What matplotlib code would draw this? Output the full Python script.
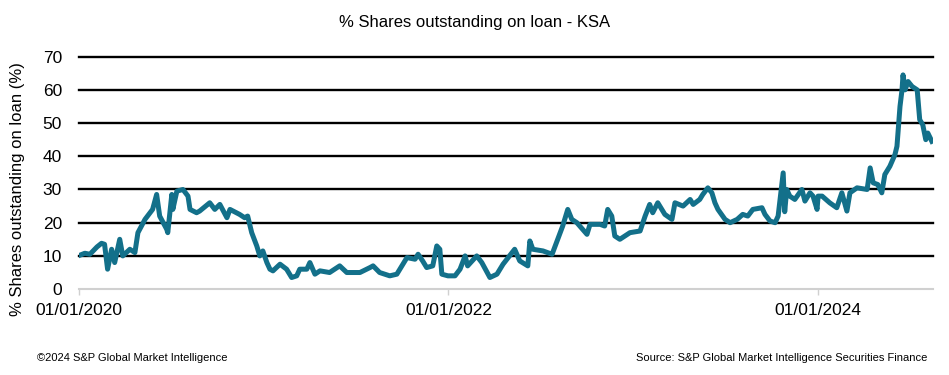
import pandas as pd
import matplotlib
import matplotlib.pyplot as plt
import matplotlib.dates as mdates

matplotlib.use("Agg")

# Values (approximate)
dates = ['2020-01-03', '2020-01-13', '2020-01-23', '2020-02-06', '2020-02-15', '2020-02-21',
         '2020-02-27', '2020-03-06', '2020-03-12', '2020-03-22', '2020-03-28', '2020-04-11',
         '2020-04-21', '2020-04-27', '2020-05-11', '2020-05-26', '2020-06-03', '2020-06-09',
         '2020-06-23', '2020-06-25', '2020-07-03', '2020-07-05', '2020-07-13', '2020-07-25',
         '2020-08-04', '2020-08-08', '2020-08-21', '2020-08-27', '2020-09-16', '2020-09-26',
         '2020-10-06', '2020-10-20', '2020-10-26', '2020-11-14', '2020-11-24', '2020-11-30',
         '2020-12-08', '2020-12-18', '2020-12-24', '2020-12-30', '2021-01-07', '2021-01-13',
         '2021-01-19', '2021-02-02', '2021-02-15', '2021-02-25', '2021-03-07', '2021-03-13',
         '2021-03-27', '2021-04-02', '2021-04-12', '2021-04-22', '2021-05-11', '2021-05-31',
         '2021-06-14', '2021-07-10', '2021-07-30', '2021-08-05', '2021-08-18', '2021-09-07',
         '2021-09-21', '2021-10-03', '2021-10-11', '2021-10-27', '2021-11-02', '2021-11-11',
         '2021-11-19', '2021-12-01', '2021-12-09', '2021-12-15', '2021-12-19', '2021-12-31',
         '2022-01-14', '2022-01-24', '2022-02-03', '2022-02-08', '2022-02-26', '2022-03-08',
         '2022-03-24', '2022-04-07', '2022-04-19', '2022-05-12', '2022-05-22', '2022-06-07',
         '2022-06-11', '2022-06-17', '2022-07-07', '2022-07-25', '2022-08-05', '2022-08-15',
         '2022-08-25', '2022-09-02', '2022-09-12', '2022-10-02', '2022-10-08', '2022-10-28',
         '2022-11-06', '2022-11-12', '2022-11-20', '2022-11-26', '2022-12-06', '2022-12-26',
         '2023-01-15', '2023-01-25', '2023-02-03', '2023-02-09', '2023-02-19', '2023-03-05',
         '2023-03-19', '2023-03-25', '2023-04-10', '2023-04-24', '2023-04-30', '2023-05-13',
         '2023-05-19', '2023-05-29', '2023-06-06', '2023-06-12', '2023-06-18', '2023-07-02',
         '2023-07-12', '2023-07-26', '2023-08-06', '2023-08-16', '2023-08-26', '2023-09-13',
         '2023-09-19', '2023-09-29', '2023-10-09', '2023-10-15', '2023-10-23', '2023-10-25',
         '2023-10-28', '2023-11-01', '2023-11-07', '2023-11-17', '2023-12-01', '2023-12-07',
         '2023-12-17', '2023-12-23', '2023-12-31', '2024-01-02', '2024-01-10', '2024-01-25',
         '2024-02-08', '2024-02-18', '2024-02-28', '2024-03-05', '2024-03-19', '2024-04-08',
         '2024-04-14', '2024-04-20', '2024-04-29', '2024-05-07', '2024-05-13', '2024-05-23',
         '2024-06-02', '2024-06-06', '2024-06-12', '2024-06-16', '2024-06-18', '2024-06-22',
         '2024-06-28', '2024-07-06', '2024-07-16', '2024-07-21', '2024-07-27', '2024-08-02',
         '2024-08-06', '2024-08-14']
pct_on_loan = [10.2, 10.8, 10.5, 12.7, 13.8, 13.5,
               6.0, 12.0, 8.0, 15.0, 10.0, 12.0,
               11.0, 17.0, 21.0, 24.0, 28.5, 22.0,
               18.0, 17.0, 28.5, 24.0, 29.5, 30.0,
               28.0, 24.0, 23.0, 23.5, 26.0, 24.0,
               25.5, 21.5, 24.0, 22.5, 21.5, 22.0,
               17.0, 13.0, 10.0, 11.5, 8.0, 6.0,
               5.5, 7.5, 6.0, 3.5, 4.0, 6.0,
               6.0, 8.0, 4.5, 5.5, 5.0, 7.0,
               5.0, 5.0, 6.5, 7.0, 5.0, 4.0,
               4.5, 7.5, 9.5, 9.0, 10.5, 8.5,
               6.5, 7.0, 13.0, 12.0, 4.5, 4.0,
               4.0, 6.0, 10.0, 7.0, 10.0, 8.0,
               3.5, 4.5, 7.5, 12.0, 8.5, 7.0,
               14.5, 12.0, 11.5, 10.5, 15.0, 19.0,
               24.0, 21.0, 20.0, 16.5, 19.5, 19.5,
               19.0, 24.0, 22.0, 16.0, 15.0, 17.0,
               17.5, 22.0, 25.5, 23.0, 26.0, 22.5,
               21.0, 26.0, 25.0, 27.0, 25.5, 27.0,
               28.5, 30.5, 29.0, 26.0, 24.0, 21.0,
               20.0, 21.0, 22.5, 22.0, 24.0, 24.5,
               22.5, 20.5, 20.0, 22.0, 32.5, 35.0,
               23.3, 30.0, 28.0, 27.0, 30.0, 26.5,
               29.0, 28.0, 24.0, 28.0, 28.0, 26.0,
               24.5, 29.0, 23.5, 29.0, 30.5, 30.0,
               36.5, 32.0, 31.5, 29.0, 34.5, 37.0,
               40.5, 43.0, 55.0, 60.0, 64.5, 60.0,
               62.5, 61.0, 60.0, 51.0, 49.5, 45.0,
               47.0, 44.5]
tick_dates = ['2020-01-01', '2022-01-01', '2024-01-01']
y_ticks = [0, 10, 20, 30, 40, 50, 60, 70]

df = pd.DataFrame({'date': pd.to_datetime(dates), 'pct': pct_on_loan})

plt.rcParams['font.family'] = ['Liberation Sans', 'DejaVu Sans']

fig = plt.figure(figsize=(9.49, 3.75), dpi=100)
ax = fig.add_axes([0.083, 0.229, 0.900, 0.620])

# Gridlines (black) at 10..70, grey base line at 0
for y in y_ticks[1:]:
    ax.axhline(y, color='black', lw=1.7, zorder=1, clip_on=False)

ax.plot(df['date'], df['pct'], color='#13708a', lw=3.6, solid_joinstyle='round', zorder=3)

ax.set_ylim(0, 70)
ax.set_xlim(pd.Timestamp('2020-01-01'), pd.Timestamp('2024-08-16'))
ax.set_yticks(y_ticks)
ax.set_xticks(pd.to_datetime(tick_dates))
ax.xaxis.set_major_formatter(mdates.DateFormatter('%d/%m/%Y'))

for side in ['left', 'right', 'top']:
    ax.spines[side].set_visible(False)
ax.spines['bottom'].set_color('#d0d0d0')
ax.spines['bottom'].set_linewidth(1.5)

ax.tick_params(axis='y', length=0, pad=12, labelsize=12.5)
ax.tick_params(axis='x', length=4, width=1, color='#d0d0d0', pad=6, labelsize=12.5)

ax.set_ylabel('% Shares outstanding on loan (%)', fontsize=12)
ax.yaxis.set_label_coords(-0.063, 0.43)

fig.text(0.5, 0.94, '% Shares outstanding on loan - KSA', ha='center', va='center', fontsize=12)
fig.text(0.039, 0.045, '\u00a92024 S&P Global Market Intelligence', ha='left', va='center',
         fontsize=8, family=['Liberation Sans Narrow', 'Liberation Sans'])
fig.text(0.977, 0.045, 'Source: S&P Global Market Intelligence Securities Finance', ha='right',
         va='center', fontsize=8, family=['Liberation Sans Narrow', 'Liberation Sans'])

fig.savefig('out.png', dpi=100)
